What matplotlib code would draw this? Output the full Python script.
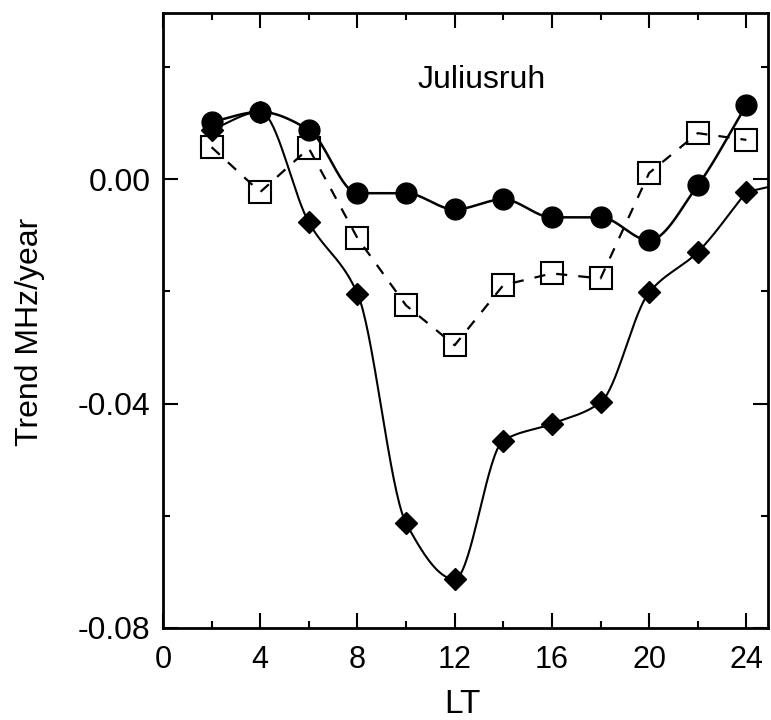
import numpy as np
import matplotlib
matplotlib.use("Agg")
import matplotlib.pyplot as plt
from matplotlib.ticker import MultipleLocator

# local time (hours)
lt = [2, 4, 6, 8, 10, 12, 14, 16, 18, 20, 22, 24]

# trends, MHz/year
circles = [0.0102, 0.0120, 0.0088, -0.0025, -0.0025, -0.0054, -0.0036, -0.0068, -0.0068, -0.0109, -0.0011, 0.0132]
squares = [0.0057, -0.0023, 0.0055, -0.0105, -0.0225, -0.0296, -0.0189, -0.0168, -0.0177, 0.0011, 0.0082, 0.0070]
diamonds = [0.0088, 0.0120, -0.0077, -0.0204, -0.0613, -0.0713, -0.0466, -0.0436, -0.0398, -0.0202, -0.0130, -0.0023]
# diamond curve runs on past 24 h to the frame
diamond_tail_x = [24, 25]
diamond_tail = [-0.0023, -0.0013]

station = "Juliusruh"


def pchip(x, y, num=400):
    # monotone cubic (Fritsch-Carlson), no overshoot between points
    x = np.asarray(x, float)
    y = np.asarray(y, float)
    h = np.diff(x)
    s = np.diff(y) / h
    d = np.zeros(len(x))
    for i in range(1, len(x) - 1):
        if s[i - 1] * s[i] > 0:
            w1 = 2 * h[i] + h[i - 1]
            w2 = h[i] + 2 * h[i - 1]
            d[i] = (w1 + w2) / (w1 / s[i - 1] + w2 / s[i])
    d[0] = s[0]
    d[-1] = s[-1]
    xs = np.linspace(x[0], x[-1], num)
    idx = np.clip(np.searchsorted(x, xs) - 1, 0, len(x) - 2)
    hh = h[idx]
    t = (xs - x[idx]) / hh
    ys = ((2 * t ** 3 - 3 * t ** 2 + 1) * y[idx] + (t ** 3 - 2 * t ** 2 + t) * hh * d[idx]
          + (-2 * t ** 3 + 3 * t ** 2) * y[idx + 1] + (t ** 3 - t ** 2) * hh * d[idx + 1])
    return xs, ys


plt.rcParams['font.family'] = ['Liberation Sans', 'DejaVu Sans']

fig = plt.figure(figsize=(7.71, 7.2), dpi=100)
ax = fig.add_axes([0.2114, 0.1278, 0.785, 0.854])

# diamonds, smooth solid curve
xs, ys = pchip(lt, diamonds)
ax.plot(xs, ys, color='black', lw=1.5, zorder=2)
ax.plot(diamond_tail_x, diamond_tail, color='black', lw=1.5, zorder=2)
ax.plot(lt, diamonds, ls='none', marker='D', ms=11.5, color='black', zorder=4)

# squares, dashed straight segments
ax.plot(lt, squares, color='black', lw=1.6, ls=(0, (5, 5)), zorder=2)
ax.plot(lt, squares, ls='none', marker='s', ms=16, mfc='none', mec='black', mew=1.5, zorder=3)

# circles, smooth solid curve
xs, ys = pchip(lt, circles)
ax.plot(xs, ys, color='black', lw=1.8, zorder=3)
ax.plot(lt, circles, ls='none', marker='o', ms=15, color='black', zorder=5)

ax.text(13.1, 0.0177, station, fontsize=23, ha='center', va='center')

ax.set_xlim(0, 24.9)
ax.set_ylim(-0.08, 0.0296)
ax.xaxis.set_major_locator(MultipleLocator(4))
ax.xaxis.set_minor_locator(MultipleLocator(2))
ax.yaxis.set_major_locator(MultipleLocator(0.04))
ax.yaxis.set_minor_locator(MultipleLocator(0.02))
ax.yaxis.set_major_formatter(plt.FormatStrFormatter('%.2f'))

ax.tick_params(which='both', direction='in', top=True, right=True, width=1.5)
ax.tick_params(which='major', length=11)
ax.tick_params(which='minor', length=5)
ax.tick_params(axis='x', labelsize=22, pad=12)
ax.tick_params(axis='y', labelsize=23, pad=9)
for s in ax.spines.values():
    s.set_linewidth(2)

ax.set_xlabel("LT", fontsize=24)
ax.xaxis.set_label_coords(0.495, -0.124)
ax.xaxis.label.set_va('center')
fig.text(30 / 771, 1 - 332 / 720, "Trend MHz/year", rotation=90, fontsize=23,
         ha='center', va='center')

fig.savefig("out.png", dpi=100)
